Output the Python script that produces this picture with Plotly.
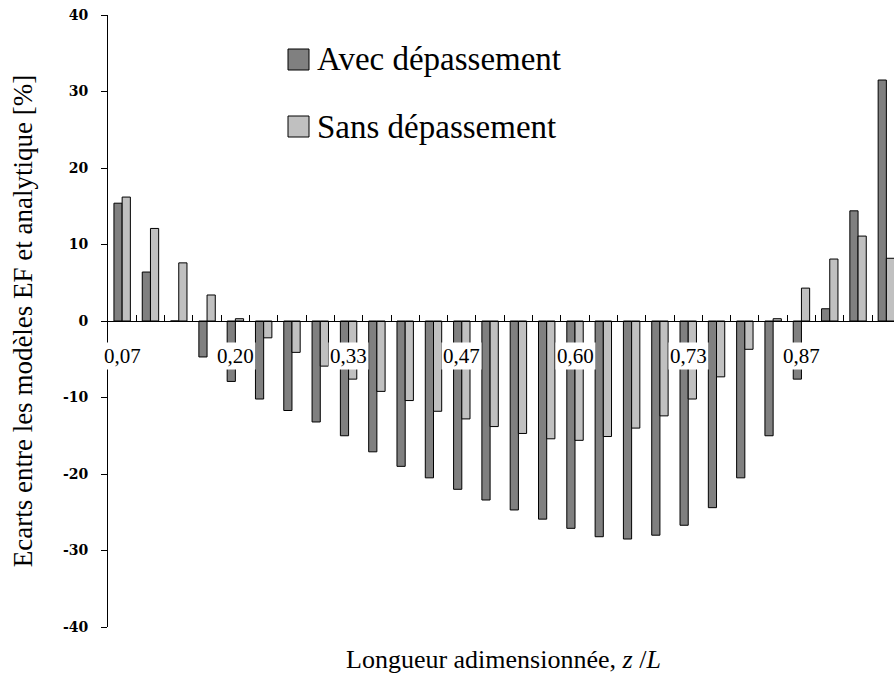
import plotly.graph_objects as go

# Dimensionless length z/L (category labels)
z_labels = ["0,07", "0,10", "0,13", "0,17", "0,20", "0,23", "0,27", "0,30",
            "0,33", "0,37", "0,40", "0,43", "0,47", "0,50", "0,53", "0,57",
            "0,60", "0,63", "0,67", "0,70", "0,73", "0,77", "0,80", "0,83",
            "0,87", "0,90", "0,93", "0,97"]

# Deviation between FE model and analytical model [%]
avec_depassement = [15.4, 6.4, 0.0, -4.7, -7.9, -10.2, -11.7, -13.2, -15.0, -17.1,
                    -19.0, -20.5, -22.0, -23.4, -24.7, -25.9, -27.1, -28.2, -28.5,
                    -28.0, -26.7, -24.4, -20.5, -15.0, -7.6, 1.6, 14.4, 31.5]
sans_depassement = [16.2, 12.1, 7.6, 3.4, 0.3, -2.2, -4.1, -5.9, -7.6, -9.2,
                    -10.4, -11.8, -12.8, -13.8, -14.7, -15.4, -15.6, -15.1, -14.0,
                    -12.4, -10.2, -7.3, -3.7, 0.3, 4.3, 8.1, 11.1, 8.2]

series_names = ["Avec dépassement", "Sans dépassement"]
series_colors = ["#808080", "#c0c0c0"]

# Labels shown along the zero line (every fourth position)
tick_labels = ["0,07", "0,20", "0,33", "0,47", "0,60", "0,73", "0,87"]

# Value axis ticks
y_ticks = [-40, -30, -20, -10, 0, 10, 20, 30, 40]
y_tick_text = ["-40", "-30", "-20", "-10", "0", "10", "20", "30", "40"]

W, H = 894, 675
ML, MR, MT, MB = 108, 0, 15, 48
PW, PH = W - ML - MR, H - MT - MB
SERIF = "Liberation Serif"


def px_to_paper_x(px):
    return (px - ML) / PW


def px_to_paper_y(py):
    return 1 - (py - MT) / PH


fig = go.Figure()
for name, vals, col in zip(series_names, [avec_depassement, sans_depassement], series_colors):
    fig.add_trace(go.Bar(
        x=z_labels, y=vals, name=name,
        marker=dict(color=col, line=dict(color="black", width=1)),
        showlegend=False,
    ))

# Category labels sitting just under the zero line, on a white box
annotations = []
for lab in tick_labels:
    annotations.append(dict(
        x=lab, y=0, xref="x", yref="y", text=lab, showarrow=False,
        yshift=-35, bgcolor="white", borderpad=1,
        font=dict(family=SERIF, size=21, color="black"),
    ))

# Legend block drawn inside the plot area
shapes = []
rows = [59.5, 126.5]
for name, col, yc in zip(series_names, series_colors, rows):
    shapes.append(dict(
        type="rect", xref="paper", yref="paper",
        x0=px_to_paper_x(288), x1=px_to_paper_x(309),
        y0=px_to_paper_y(yc + 10.5), y1=px_to_paper_y(yc - 10.5),
        fillcolor=col, line=dict(color="black", width=1),
    ))
    annotations.append(dict(
        x=px_to_paper_x(315), y=px_to_paper_y(yc), xref="paper", yref="paper",
        text=name, showarrow=False, xanchor="left", yanchor="middle",
        font=dict(family=SERIF, size=33, color="black"),
    ))

# Horizontal axis title
annotations.append(dict(
    x=px_to_paper_x(504), y=px_to_paper_y(659), xref="paper", yref="paper",
    text="Longueur adimensionnée, <i>z</i> /<i>L</i>", showarrow=False,
    xanchor="center", yanchor="middle",
    font=dict(family=SERIF, size=26, color="black"),
))

fig.update_layout(
    width=W, height=H,
    margin=dict(l=ML, r=MR, t=MT, b=MB, pad=0),
    paper_bgcolor="white", plot_bgcolor="white",
    barmode="group", bargap=0.42, bargroupgap=0,
    annotations=annotations, shapes=shapes,
    xaxis=dict(
        type="category", range=[-0.5, 27.27],
        anchor="free", position=0.5,
        showline=True, linecolor="black", linewidth=1,
        ticks="inside", tickson="boundaries", ticklen=6, tickcolor="black",
        showticklabels=False, showgrid=False, zeroline=False,
    ),
    yaxis=dict(
        range=[-40, 40], tickvals=y_ticks, ticktext=y_tick_text,
        showline=True, linecolor="black", linewidth=1,
        ticks="outside", ticklen=6, tickcolor="black",
        showgrid=False, zeroline=False,
        ticklabelstandoff=10,
        tickfont=dict(family="DejaVu Serif", size=14, color="black", weight="bold"),
        title=dict(
            text="Ecarts entre les modèles EF et analytique [%]",
            font=dict(family=SERIF, size=27, color="black"),
            standoff=22,
        ),
    ),
)

fig.write_html("out.html")
